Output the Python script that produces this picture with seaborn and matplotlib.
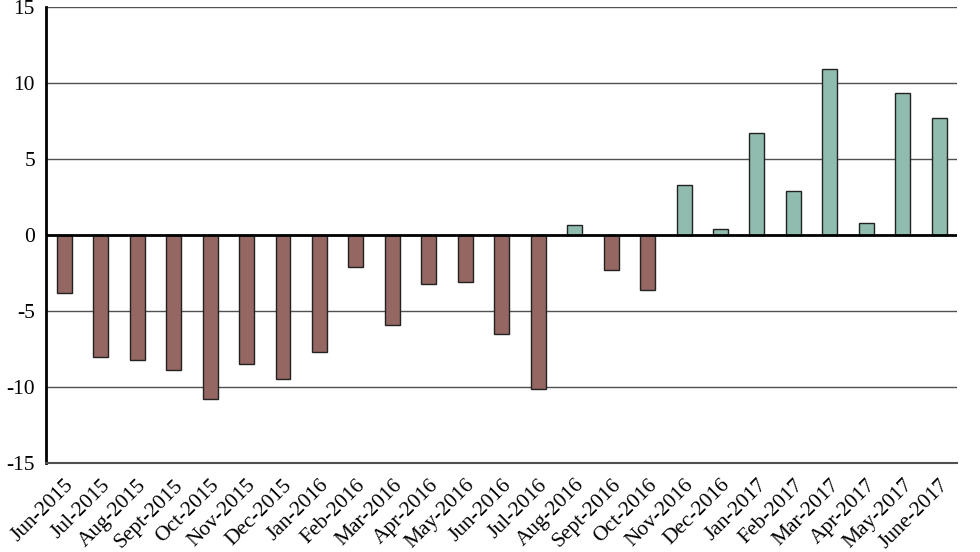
import numpy as np
import pandas as pd
import matplotlib
matplotlib.use("Agg")
import matplotlib.pyplot as plt
import seaborn as sns

months = ["Jun-2015", "Jul-2015", "Aug-2015", "Sept-2015", "Oct-2015", "Nov-2015",
          "Dec-2015", "Jan-2016", "Feb-2016", "Mar-2016", "Apr-2016", "May-2016",
          "Jun-2016", "Jul-2016", "Aug-2016", "Sept-2016", "Oct-2016", "Nov-2016",
          "Dec-2016", "Jan-2017", "Feb-2017", "Mar-2017", "Apr-2017", "May-2017",
          "June-2017"]
values = [-3.8, -8.0, -8.2, -8.9, -10.8, -8.5, -9.5, -7.7, -2.1, -5.9, -3.2, -3.1,
          -6.5, -10.1, 0.65, -2.3, -3.6, 3.25, 0.4, 6.7, 2.9, 10.9, 0.8, 9.35, 7.7]
y_ticks = [-15, -10, -5, 0, 5, 10, 15]

df = pd.DataFrame({"month": months, "value": values})
df["sign"] = np.where(df["value"] < 0, "neg", "pos")

sns.set_style("white")
plt.rcParams["font.family"] = ["Liberation Serif", "DejaVu Serif"]
plt.rcParams["axes.unicode_minus"] = False

fig = plt.figure(figsize=(9.8, 5.52), dpi=100)
ax = fig.add_axes([0.047, 0.161, 0.93, 0.827])

for t in y_ticks:
    if t != 0:
        ax.axhline(t, color="#505050", lw=1.0, zorder=0)

sns.barplot(data=df, x="month", y="value", hue="sign",
            palette={"neg": "#946762", "pos": "#8fbcae"}, saturation=1,
            dodge=False, width=0.41, edgecolor="#222222", linewidth=1.0,
            legend=False, ax=ax, zorder=2)
ax.axhline(0, color="black", lw=2.0, zorder=3)

ax.set_ylim(-15, 15)
ax.set_xlim(-0.5, len(months) - 0.5)
ax.set_yticks(y_ticks)
ax.set_xticks(range(len(months)))
ax.set_xticklabels(months, rotation=45, ha="right", va="top", rotation_mode="anchor")
ax.tick_params(axis="both", length=0, labelsize=15.5, colors="black")
ax.tick_params(axis="x", pad=9)
ax.tick_params(axis="y", pad=8)
ax.set_xlabel("")
ax.set_ylabel("")

for s in ["top", "right"]:
    ax.spines[s].set_visible(False)
ax.spines["left"].set_color("black")
ax.spines["left"].set_linewidth(2.0)
ax.spines["bottom"].set_color("#505050")
ax.spines["bottom"].set_linewidth(1.5)

fig.savefig("out.png", dpi=100)
